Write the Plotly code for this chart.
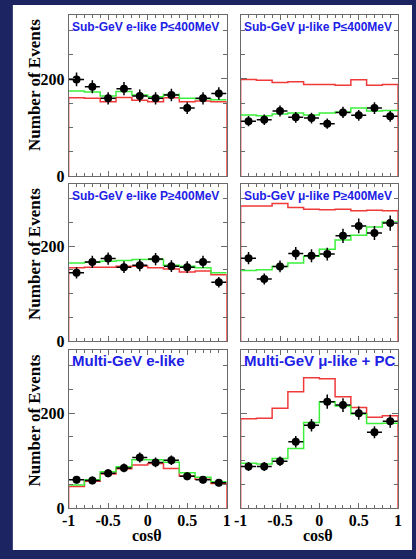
import plotly.graph_objects as go

# ---------------- data ----------------
bin_edges = [-1.0, -0.8, -0.6, -0.4, -0.2, 0.0, 0.2, 0.4, 0.6, 0.8, 1.0]
cos_centers = [-0.9, -0.7, -0.5, -0.3, -0.1, 0.1, 0.3, 0.5, 0.7, 0.9]

titles = ["Sub-GeV e-like P\u2264400MeV", "Sub-GeV \u03bc-like P\u2264400MeV",
          "Sub-GeV e-like P\u2265400MeV", "Sub-GeV \u03bc-like P\u2265400MeV",
          "Multi-GeV e-like", "Multi-GeV \u03bc-like + PC"]

# Sub-GeV e-like P<=400
data_1 = [199, 184, 160, 180, 165, 160, 167, 140, 160, 170]
err_1 = [14, 13.5, 12.5, 13.5, 13, 12.5, 13, 12, 12.5, 13]
osc_1 = [175, 173, 165, 174, 167, 163.5, 168, 160, 159, 157]
noosc_1 = [161.5, 160, 153, 162, 156, 153, 161.5, 153, 154.5, 153]

# Sub-GeV mu-like P<=400
data_2 = [113, 116, 134, 121, 119.5, 108, 131, 125, 140, 123]
err_2 = [10.5, 11, 11.5, 11, 11, 10.5, 11.5, 11, 12, 11]
osc_2 = [126, 124, 128, 130, 126, 130, 132, 140, 134, 135]
noosc_2 = [199, 197, 192.5, 194, 188.5, 188.5, 187, 198.5, 187, 188.5]

# Sub-GeV e-like P>=400
data_3 = [144, 167, 174, 156, 160, 173, 158, 156, 167, 124]
err_3 = [12, 13, 13, 12.5, 12.5, 13, 12.5, 12.5, 13, 11]
osc_3 = [165, 166.5, 168.5, 170, 172, 172, 160, 158, 154.5, 144]
noosc_3 = [154.5, 156, 156, 158, 158, 154.5, 152, 146, 148, 140]

# Sub-GeV mu-like P>=400
data_4 = [175, 131, 157.5, 185, 180, 183.5, 222, 243, 228, 249]
err_4 = [13, 11.5, 12.5, 13.5, 13.5, 13.5, 15, 15.5, 15, 16]
osc_4 = [149, 150.5, 157.5, 165, 179, 194, 213, 223.5, 240.5, 251]
noosc_4 = [285, 285, 290, 282, 278, 277, 278, 275, 276, 275]

# Multi-GeV e-like
data_5 = [60, 58.7, 74, 85, 107, 96.6, 101, 67.6, 60, 53.8]
err_5 = [8, 8, 8.5, 9, 10.5, 10, 10, 8.5, 8, 7.5]
osc_5 = [49, 60, 77, 87.5, 102, 102, 97, 75, 65.5, 56]
noosc_5 = [46, 57, 72, 83, 91, 94, 84, 68, 61, 52]

# Multi-GeV mu-like + PC
data_6 = [88, 88, 99, 140, 174.5, 224, 217, 200, 160, 183]
err_6 = [9.5, 9.5, 10, 12, 13, 15, 14.5, 14, 12.5, 13.5]
osc_6 = [95, 93, 105, 125.5, 180.5, 224, 215, 198, 178, 179]
noosc_6 = [188, 189.5, 210, 245, 274.5, 272, 234.5, 212, 191.5, 194.5]

y_tick_vals = [0, 200]
y_tick_text = ["0", "200"]
x_tick_vals = [-1, -0.5, 0, 0.5, 1]
x_tick_text = ["-1", "-0.5", "0", "0.5", "1"]

panels = [
    (data_1, err_1, osc_1, noosc_1),
    (data_2, err_2, osc_2, noosc_2),
    (data_3, err_3, osc_3, noosc_3),
    (data_4, err_4, osc_4, noosc_4),
    (data_5, err_5, osc_5, noosc_5),
    (data_6, err_6, osc_6, noosc_6),
]

# ---------------- layout geometry ----------------
W, H = 416, 559
col_px = [(63.3, 225.7), (240.0, 401.7)]
row_px = [(15.0, 179.0), (186.7, 346.7), (356.0, 516.7)]
Y_MAX = 332

NAVY = "#1c2561"
RED = "#f03a3a"
GREEN = "#3cf03c"
BLUE = "#2121e6"
SERIF = "Liberation Serif, Times New Roman, serif"
SANS = "Liberation Sans, Arial, sans-serif"

fig = go.Figure()
annotations = []

for i, (d, e, osc, noosc) in enumerate(panels):
    r, c = divmod(i, 2)
    ax = "" if i == 0 else str(i + 1)
    xref, yref = "x" + ax, "y" + ax

    # unoscillated (red) histogram, closed to zero at both ends
    fig.add_trace(go.Scatter(
        x=[bin_edges[0]] + bin_edges + [bin_edges[-1]],
        y=[0] + noosc + [noosc[-1], 0],
        mode="lines", line=dict(color=RED, width=1.5, shape="hv"),
        xaxis=xref, yaxis=yref, showlegend=False, hoverinfo="skip"))
    # oscillated best fit (green) histogram
    fig.add_trace(go.Scatter(
        x=bin_edges, y=osc + [osc[-1]],
        mode="lines", line=dict(color=GREEN, width=1.5, shape="hv"),
        xaxis=xref, yaxis=yref, showlegend=False, hoverinfo="skip"))
    # data points
    fig.add_trace(go.Scatter(
        x=cos_centers, y=d, mode="markers",
        marker=dict(color="black", size=8),
        error_y=dict(type="data", array=e, color="black", thickness=1.5, width=0),
        error_x=dict(type="constant", value=0.095, color="black", thickness=1.5, width=0),
        xaxis=xref, yaxis=yref, showlegend=False))

    x0, x1 = col_px[c]
    ytop, ybot = row_px[r]
    xdom = [x0 / W, x1 / W]
    ydom = [1 - ybot / H, 1 - ytop / H]
    common = dict(showline=True, linecolor="#6a6a6a", linewidth=1, mirror="ticks",
                  ticks="inside", tickcolor="#6a6a6a", showgrid=False, zeroline=False,
                  tickfont=dict(family=SERIF, size=16, color="black", weight="bold"))
    fig.layout["xaxis" + ax] = dict(
        domain=xdom, range=[-1, 1], anchor=yref,
        tickvals=x_tick_vals, ticktext=x_tick_text, ticklen=5,
        showticklabels=(r == 2), ticklabelstandoff=-3,
        minor=dict(dtick=0.1, tick0=0, ticks="inside", ticklen=3, tickcolor="#6a6a6a"),
        **common)
    fig.layout["yaxis" + ax] = dict(
        domain=ydom, range=[0, Y_MAX], anchor=xref,
        tickvals=y_tick_vals, ticktext=y_tick_text, ticklen=6,
        showticklabels=(c == 0), ticklabelstandoff=0,
        minor=dict(dtick=50, tick0=0, ticks="inside", ticklen=4, tickcolor="#6a6a6a"),
        **common)

    big = r == 2
    annotations.append(dict(
        text=titles[i], xref="paper", yref="paper",
        x=(x0 + 1) / W, y=1 - (ytop + (10 if big else 12)) / H,
        xanchor="left", yanchor="middle", showarrow=False,
        font=dict(family=SANS, size=15 if big else 12, color=BLUE, weight="bold")))

    if c == 0:
        annotations.append(dict(
            text="Number of Events", textangle=-90, xref="paper", yref="paper",
            x=28 / W, y=1 - (ytop + 2) / H, xanchor="center", yanchor="top",
            showarrow=False,
            font=dict(family=SERIF, size=17, color="black", weight="bold")))
    if r == 2:
        annotations.append(dict(
            text="cos\u03b8", xref="paper", yref="paper",
            x=((x0 + x1) / 2 - 1) / W, y=1 - 544 / H,
            xanchor="center", yanchor="middle", showarrow=False,
            font=dict(family=SERIF, size=16, color="black", weight="bold")))

fig.update_layout(
    width=W, height=H, margin=dict(l=0, r=0, t=0, b=0),
    paper_bgcolor=NAVY, plot_bgcolor="white",
    annotations=annotations,
    shapes=[dict(type="rect", xref="paper", yref="paper",
                 x0=6 / W, x1=1, y0=0, y1=1 - 5 / H,
                 fillcolor="white", line=dict(width=0), layer="below")],
)

fig.write_html("out.html", config={"displayModeBar": False},
               post_script="document.body.style.margin='0';document.body.style.overflow='hidden';")
